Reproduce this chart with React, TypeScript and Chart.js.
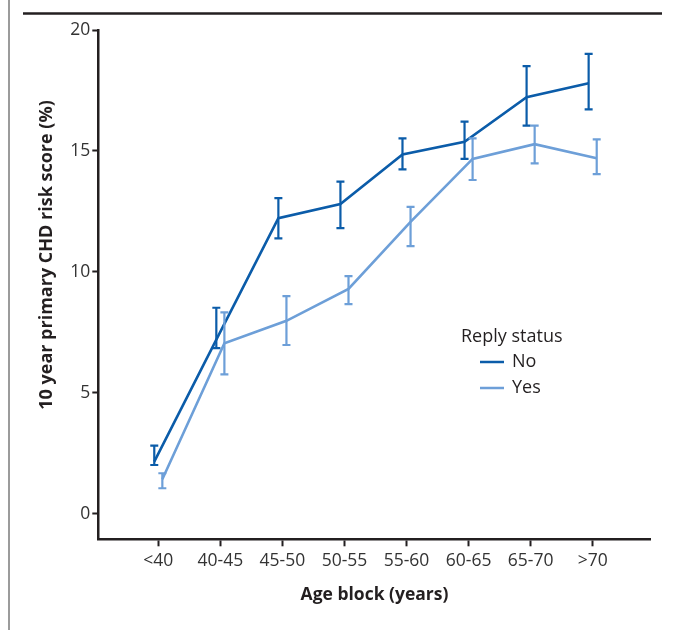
import React, { useEffect, useRef } from 'react';
import { Chart, registerables } from 'chart.js';

Chart.register(...registerables);

const categories = ['<40', '40-45', '45-50', '50-55', '55-60', '60-65', '65-70', '>70'];
const noMean = [2.16, 7.2, 12.22, 12.81, 14.86, 15.38, 17.22, 17.8];
const noLow = [2.02, 6.85, 11.39, 11.81, 14.24, 14.67, 16.05, 16.72];
const noHigh = [2.82, 8.52, 13.05, 13.73, 15.52, 16.21, 18.51, 19.01];
const yesMean = [1.43, 7.05, 7.98, 9.3, 12.07, 14.67, 15.28, 14.7];
const yesLow = [1.06, 5.77, 6.98, 8.67, 11.07, 13.8, 14.49, 14.04];
const yesHigh = [1.68, 8.33, 9.0, 9.83, 12.69, 15.52, 16.05, 15.48];
const yTicks = [0, 5, 10, 15, 20];
const seriesNames = ['No', 'Yes'];
const legendTitle = 'Reply status';
const xTitle = 'Age block (years)';
const yTitle = '10 year primary CHD risk score (%)';

const NO_COLOR = '#0b5ca9';
const YES_COLOR = '#6d9fd8';
const INK = '#231f20';
const FONT = "'Open Sans', 'Noto Sans', sans-serif";
const DODGE = 0.065;

const errorBars = {
  id: 'errorBars',
  afterDatasetsDraw(chart: any) {
    const ctx = chart.ctx;
    const xs = chart.scales.x;
    const ys = chart.scales.y;
    chart.data.datasets.forEach((ds: any) => {
      ctx.save();
      ctx.strokeStyle = ds.borderColor;
      ctx.lineWidth = 2.2;
      ds.data.forEach((p: any, i: number) => {
        const x = xs.getPixelForValue(p.x);
        const y1 = ys.getPixelForValue(ds.errLow[i]);
        const y2 = ys.getPixelForValue(ds.errHigh[i]);
        ctx.beginPath();
        ctx.moveTo(x, y1);
        ctx.lineTo(x, y2);
        ctx.moveTo(x - 4, y1);
        ctx.lineTo(x + 4, y1);
        ctx.moveTo(x - 4, y2);
        ctx.lineTo(x + 4, y2);
        ctx.stroke();
      });
      ctx.restore();
    });
  },
};

const decorations = {
  id: 'decorations',
  afterDraw(chart: any) {
    const ctx = chart.ctx;
    ctx.save();
    // page frame
    ctx.strokeStyle = '#7a7a7a';
    ctx.lineWidth = 1.5;
    ctx.beginPath();
    ctx.moveTo(9, 0);
    ctx.lineTo(9, 630);
    ctx.stroke();
    ctx.strokeStyle = INK;
    ctx.lineWidth = 2.5;
    ctx.beginPath();
    ctx.moveTo(23, 13.5);
    ctx.lineTo(662, 13.5);
    ctx.stroke();

    // y title
    ctx.save();
    ctx.translate(47, 255);
    ctx.rotate(-Math.PI / 2);
    ctx.fillStyle = INK;
    ctx.font = `bold 18px ${FONT}`;
    ctx.textAlign = 'center';
    ctx.textBaseline = 'middle';
    ctx.fillText(yTitle, 0, 0);
    ctx.restore();

    // legend
    ctx.fillStyle = INK;
    ctx.font = `18px ${FONT}`;
    ctx.textAlign = 'left';
    ctx.textBaseline = 'middle';
    ctx.fillText(legendTitle, 461, 337);
    const colors = [NO_COLOR, YES_COLOR];
    seriesNames.forEach((name, i) => {
      const y = 362 + i * 26;
      ctx.strokeStyle = colors[i];
      ctx.lineWidth = 2.5;
      ctx.beginPath();
      ctx.moveTo(480, y);
      ctx.lineTo(504, y);
      ctx.stroke();
      ctx.fillStyle = INK;
      ctx.fillText(name, 512, y);
    });
    ctx.restore();
  },
};

export default function App() {
  const ref = useRef<HTMLCanvasElement>(null);
  useEffect(() => {
    if (!ref.current) return;
    const chart = new Chart(ref.current, {
      type: 'line',
      data: {
        datasets: [
          {
            label: seriesNames[0],
            data: noMean.map((v, i) => ({ x: i - DODGE, y: v })),
            borderColor: NO_COLOR,
            backgroundColor: NO_COLOR,
            borderWidth: 2.6,
            pointRadius: 0,
            tension: 0,
            errLow: noLow,
            errHigh: noHigh,
          } as any,
          {
            label: seriesNames[1],
            data: yesMean.map((v, i) => ({ x: i + DODGE, y: v })),
            borderColor: YES_COLOR,
            backgroundColor: YES_COLOR,
            borderWidth: 2.6,
            pointRadius: 0,
            tension: 0,
            errLow: yesLow,
            errHigh: yesHigh,
          } as any,
        ],
      },
      options: {
        animation: false,
        responsive: false,
        devicePixelRatio: 1,
        layout: { padding: { left: 0, right: 30.3, top: 30, bottom: 0 } },
        plugins: {
          legend: { display: false },
          tooltip: { enabled: false },
        },
        scales: {
          x: {
            type: 'linear',
            min: -0.967,
            max: 7.935,
            afterBuildTicks: (scale: any) => {
              scale.ticks = categories.map((_, i) => ({ value: i }));
            },
            afterFit: (scale: any) => {
              scale.height = 90.7;
            },
            ticks: {
              callback: (v: any) => categories[v] ?? '',
              color: '#333',
              font: { family: FONT, size: 17.5 },
              padding: 4,
              maxRotation: 0,
              autoSkip: false,
            },
            grid: {
              drawOnChartArea: false,
              drawTicks: true,
              tickLength: 7,
              tickColor: INK,
              tickWidth: 2,
            },
            border: { color: INK, width: 2.5 },
            title: {
              display: true,
              text: xTitle,
              color: INK,
              font: { family: FONT, size: 17.5, weight: 'bold' },
              padding: { top: 0, bottom: 24.5 },
            },
          },
          y: {
            type: 'linear',
            min: -1.05,
            max: 20,
            afterBuildTicks: (scale: any) => {
              scale.ticks = yTicks.map((v) => ({ value: v }));
            },
            afterFit: (scale: any) => {
              scale.width = 98.3;
            },
            ticks: {
              color: '#333',
              font: { family: FONT, size: 17.5 },
              padding: 2,
            },
            grid: {
              drawOnChartArea: false,
              drawTicks: true,
              tickLength: 6,
              tickColor: INK,
              tickWidth: 2,
            },
            border: { color: INK, width: 2.5 },
          },
        },
      },
      plugins: [errorBars, decorations],
    });
    return () => chart.destroy();
  }, []);
  return (
    <div style={{ position: 'absolute', left: 0, top: 0, width: 681, height: 630, background: '#fff' }}>
      <canvas ref={ref} width={681} height={630} style={{ display: 'block' }} />
    </div>
  );
}
